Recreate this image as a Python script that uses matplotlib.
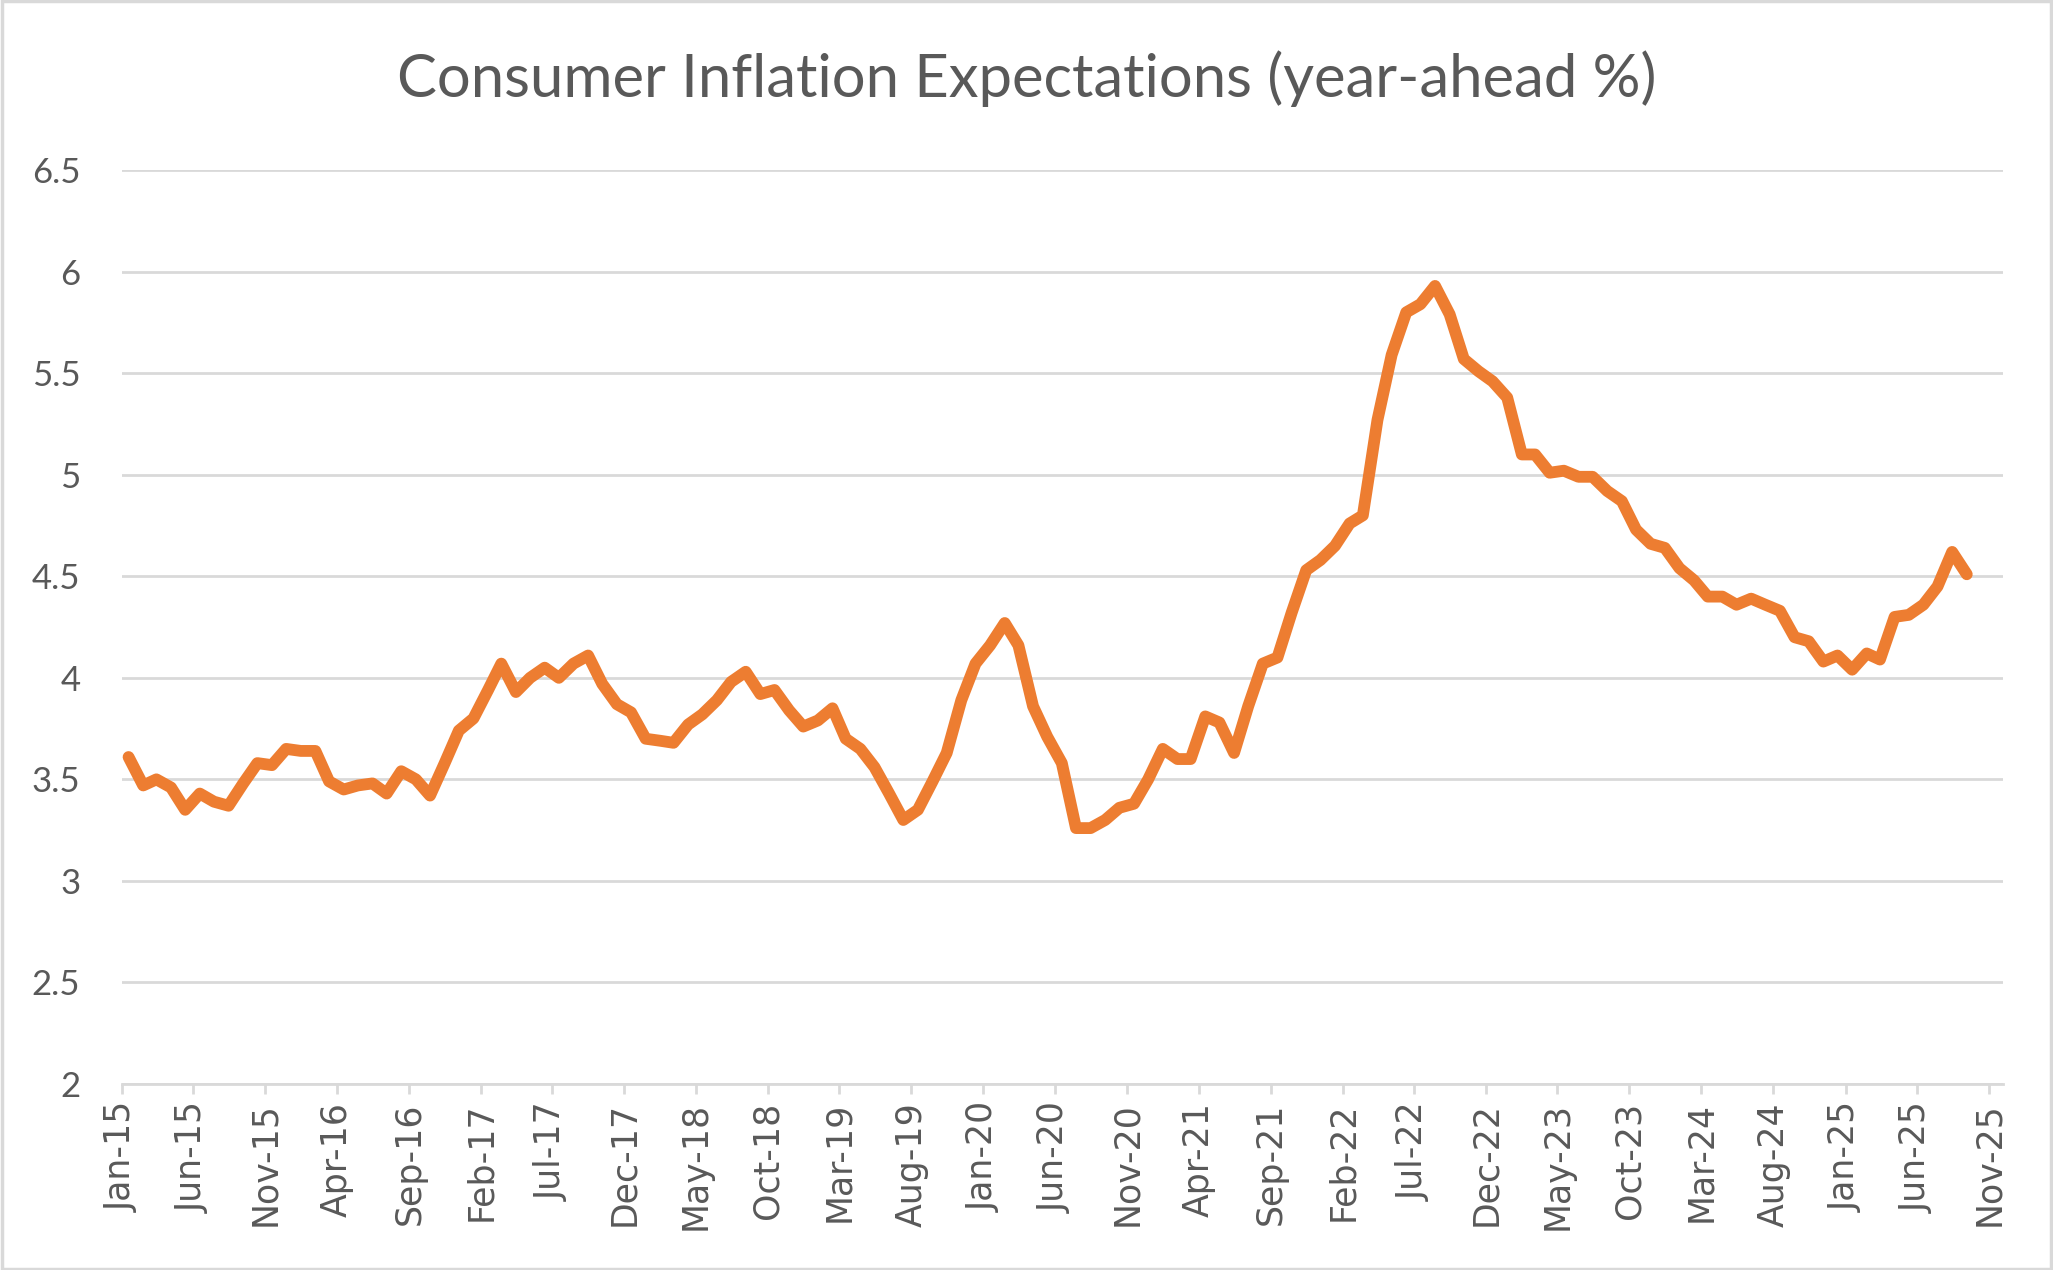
import pandas as pd
import matplotlib.pyplot as plt
from matplotlib.patches import Rectangle

# valeurs mensuelles (Jan-15 -> Sep-25)
valeurs_2015_2016 = [3.61, 3.47, 3.50, 3.46, 3.35, 3.43, 3.39, 3.37, 3.48, 3.58, 3.57, 3.65,
                     3.64, 3.64, 3.49, 3.45, 3.47, 3.48, 3.43, 3.54, 3.50, 3.42, 3.58, 3.74]
valeurs_2017_2018 = [3.80, 3.94, 4.07, 3.93, 4.00, 4.05, 4.00, 4.07, 4.11, 3.97, 3.87, 3.83,
                     3.70, 3.69, 3.68, 3.77, 3.82, 3.89, 3.98, 4.03, 3.92, 3.94, 3.84, 3.76]
valeurs_2019_2020 = [3.79, 3.85, 3.70, 3.65, 3.56, 3.43, 3.30, 3.35, 3.49, 3.63, 3.89, 4.07,
                     4.16, 4.27, 4.16, 3.86, 3.71, 3.58, 3.26, 3.26, 3.30, 3.36, 3.38, 3.50]
valeurs_2021_2022 = [3.65, 3.60, 3.60, 3.81, 3.78, 3.63, 3.86, 4.07, 4.10, 4.32, 4.53, 4.58,
                     4.65, 4.76, 4.80, 5.27, 5.59, 5.80, 5.84, 5.93, 5.79, 5.57, 5.51, 5.46]
valeurs_2023_2025 = [5.38, 5.10, 5.10, 5.01, 5.02, 4.99, 4.99, 4.92, 4.87, 4.73, 4.66, 4.64,
                     4.54, 4.48, 4.40, 4.40, 4.36, 4.39, 4.36, 4.33, 4.20, 4.18, 4.08, 4.11,
                     4.04, 4.12, 4.09, 4.30, 4.31, 4.36, 4.45, 4.62, 4.51]

valeurs = valeurs_2015_2016 + valeurs_2017_2018 + valeurs_2019_2020 + valeurs_2021_2022 + valeurs_2023_2025

# les points tombent a mi-mois sur l'axe date
dates = pd.date_range("2015-01-01", periods=len(valeurs), freq="MS") + pd.Timedelta(days=14)
ticks_x = pd.date_range("2015-01-01", "2025-11-01", freq="5MS")
labels_x = [d.strftime("%b-%y") for d in ticks_x]
ticks_y = [2, 2.5, 3, 3.5, 4, 4.5, 5, 5.5, 6, 6.5]

gris_texte = "#595959"
gris_grille = "#D9D9D9"
orange = "#ED7D31"

fig = plt.figure(figsize=(20.53, 12.70), dpi=100)
ax = fig.add_axes([0.0594, 0.1465, 0.9163, 0.7195])

ax.plot(dates, valeurs, color=orange, lw=8.5, solid_joinstyle="round", solid_capstyle="round")

ax.set_xlim(pd.Timestamp("2015-01-01"), pd.Timestamp("2025-12-01"))
ax.set_ylim(2, 6.5)
ax.set_yticks(ticks_y)
ax.set_yticklabels([f"{v:g}" for v in ticks_y], fontfamily="Lato", fontsize=25, color=gris_texte)
ax.set_xticks(ticks_x)
ax.set_xticklabels(labels_x, rotation=90, fontfamily="DejaVu Sans", fontsize=25, color=gris_texte)

ax.grid(axis="y", color=gris_grille, lw=2.0)
ax.set_axisbelow(True)
for side in ["top", "right", "left"]:
    ax.spines[side].set_visible(False)
ax.spines["bottom"].set_color(gris_grille)
ax.spines["bottom"].set_linewidth(2.0)
ax.tick_params(axis="y", length=0, pad=30)
ax.tick_params(axis="x", length=7, width=2.0, color=gris_grille, pad=6)

fig.text(0.5, 0.938, "Consumer Inflation Expectations (year-ahead %)", ha="center", va="center",
         fontfamily="Lato", fontsize=43, color=gris_texte)

# cadre du graphique
fig.patches.append(Rectangle((0.001, 0.001), 0.998, 0.998, transform=fig.transFigure,
                             fill=False, edgecolor=gris_grille, lw=2.5))

fig.savefig("out.png", dpi=100)
